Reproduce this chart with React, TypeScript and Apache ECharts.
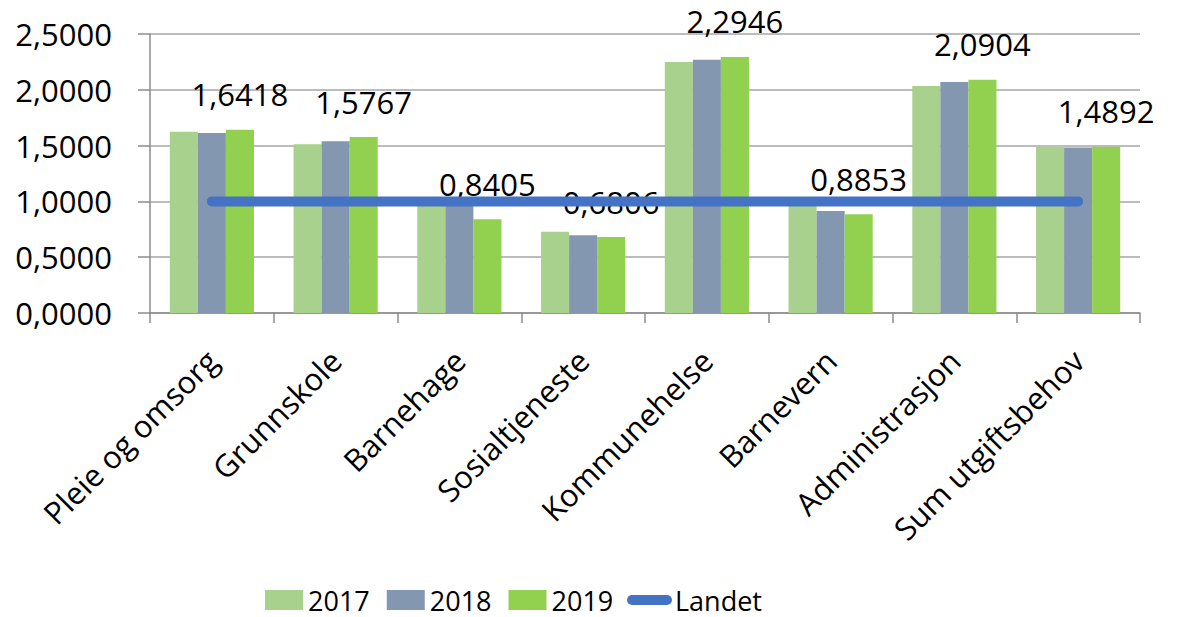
import React, { useEffect, useRef } from "react";
import * as echarts from "echarts";

const categories = [
  "Pleie og omsorg",
  "Grunnskole",
  "Barnehage",
  "Sosialtjeneste",
  "Kommunehelse",
  "Barnevern",
  "Administrasjon",
  "Sum utgiftsbehov",
];
const values2017 = [1.624, 1.513, 0.98, 0.727, 2.249, 0.97, 2.034, 1.489];
const values2018 = [1.612, 1.54, 0.99, 0.697, 2.27, 0.915, 2.069, 1.483];
const values2019 = [1.6418, 1.5767, 0.8405, 0.6806, 2.2946, 0.8853, 2.0904, 1.4892];
const landet = [1, 1, 1, 1, 1, 1, 1, 1];

const FONT = "'Open Sans', Lato, sans-serif";
const fmt = (v: number) => v.toFixed(4).replace(".", ",");

export default function App() {
  const ref = useRef<HTMLDivElement>(null);
  useEffect(() => {
    if (!ref.current) return;
    const chart = echarts.init(ref.current, undefined, { renderer: "svg" });
    chart.setOption({
      animation: false,
      textStyle: { fontFamily: FONT },
      grid: { left: 150, right: 41, top: 34, bottom: 304, containLabel: false },
      legend: [
        {
          left: 265,
          top: 586,
          padding: 0,
          itemWidth: 38,
          itemHeight: 20,
          itemGap: 17,
          textStyle: { fontSize: 27, color: "#000", fontFamily: FONT, lineHeight: 28 },
          data: [
            { name: "2017", icon: "rect" },
            { name: "2018", icon: "rect" },
            { name: "2019", icon: "rect" },
          ],
        },
        {
          left: 627,
          top: 586,
          padding: 0,
          itemWidth: 45,
          itemHeight: 10,
          textStyle: { fontSize: 27, color: "#000", fontFamily: FONT, lineHeight: 28, padding: [0, 0, 0, -2] },
          data: [
            {
              name: "Landet",
              icon: "path://M5,0 H40 A5,5 0 0 1 40,10 H5 A5,5 0 0 1 5,0 Z",
            },
          ],
        },
      ],
      xAxis: {
        type: "category",
        data: categories,
        axisLine: { lineStyle: { color: "#8C8C8C", width: 1.5 } },
        axisTick: { show: true, length: 10, lineStyle: { color: "#8C8C8C", width: 1.5 } },
        axisLabel: {
          rotate: 45,
          fontSize: 31,
          color: "#000",
          fontFamily: FONT,
          interval: 0,
          margin: 42,
        },
      },
      yAxis: {
        type: "value",
        min: 0,
        max: 2.5,
        interval: 0.5,
        axisLine: { show: true, lineStyle: { color: "#8C8C8C", width: 1.5 } },
        axisTick: { show: true, length: 12, lineStyle: { color: "#8C8C8C", width: 1.5 } },
        splitLine: { lineStyle: { color: "#A6A6A6", width: 1.5 } },
        axisLabel: {
          fontSize: 31,
          color: "#000",
          fontFamily: FONT,
          margin: 38,
          formatter: (v: number) => fmt(v),
        },
      },
      series: [
        {
          name: "2017",
          type: "bar",
          data: values2017,
          barGap: "0%",
          barCategoryGap: "32%",
          itemStyle: { color: "#A9D18E" },
        },
        {
          name: "2018",
          type: "bar",
          data: values2018,
          barGap: "0%",
          barCategoryGap: "32%",
          itemStyle: { color: "#8497B0" },
        },
        {
          name: "2019",
          type: "bar",
          data: values2019,
          barGap: "0%",
          barCategoryGap: "32%",
          itemStyle: { color: "#92D050" },
          label: {
            show: true,
            position: "top",
            distance: 20,
            fontSize: 31,
            color: "#000",
            fontFamily: FONT,
            formatter: (p: any) => fmt(p.value),
          },
        },
        {
          name: "Landet",
          type: "line",
          data: landet,
          symbol: "none",
          z: 5,
          lineStyle: { color: "#4472C4", width: 10, cap: "round" },
          itemStyle: { color: "#4472C4" },
        },
      ],
    });
    return () => chart.dispose();
  }, []);
  return <div ref={ref} style={{ width: 1181, height: 617, marginLeft: -8, marginTop: -8 }} />;
}
